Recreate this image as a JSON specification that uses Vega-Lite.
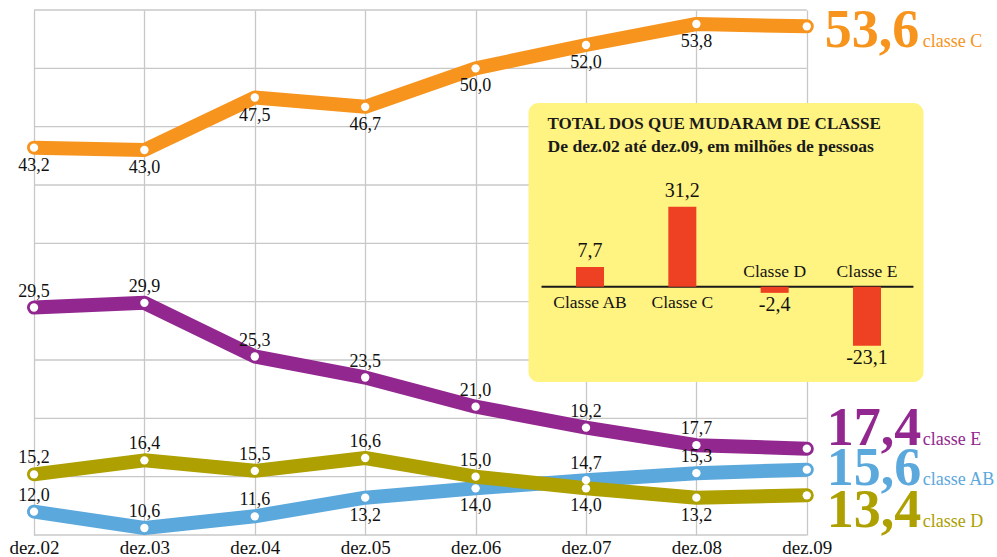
{
  "$schema": "https://vega.github.io/schema/vega-lite/v6.json",
  "autosize": {"type": "none"},
  "width": 963,
  "height": 525,
  "padding": {"left": 34, "top": 10, "right": 0, "bottom": 22},
  "background": "white",
  "config": {
    "view": {"stroke": null},
    "font": "Liberation Serif",
    "locale": {"number": {"decimal": ",", "thousands": ".", "grouping": [3], "currency": ["R$", ""], "minus": "-"}}
  },
  "datasets": {
    "linhas": [
      {"ano": 2002, "classe": "C", "valor": 43.2},
      {"ano": 2003, "classe": "C", "valor": 43.0},
      {"ano": 2004, "classe": "C", "valor": 47.5},
      {"ano": 2005, "classe": "C", "valor": 46.7},
      {"ano": 2006, "classe": "C", "valor": 50.0},
      {"ano": 2007, "classe": "C", "valor": 52.0},
      {"ano": 2008, "classe": "C", "valor": 53.8},
      {"ano": 2009, "classe": "C", "valor": 53.6},
      {"ano": 2002, "classe": "E", "valor": 29.5},
      {"ano": 2003, "classe": "E", "valor": 29.9},
      {"ano": 2004, "classe": "E", "valor": 25.3},
      {"ano": 2005, "classe": "E", "valor": 23.5},
      {"ano": 2006, "classe": "E", "valor": 21.0},
      {"ano": 2007, "classe": "E", "valor": 19.2},
      {"ano": 2008, "classe": "E", "valor": 17.7},
      {"ano": 2009, "classe": "E", "valor": 17.4},
      {"ano": 2002, "classe": "AB", "valor": 12.0},
      {"ano": 2003, "classe": "AB", "valor": 10.6},
      {"ano": 2004, "classe": "AB", "valor": 11.6},
      {"ano": 2005, "classe": "AB", "valor": 13.2},
      {"ano": 2006, "classe": "AB", "valor": 14.0},
      {"ano": 2007, "classe": "AB", "valor": 14.7},
      {"ano": 2008, "classe": "AB", "valor": 15.3},
      {"ano": 2009, "classe": "AB", "valor": 15.6},
      {"ano": 2002, "classe": "D", "valor": 15.2},
      {"ano": 2003, "classe": "D", "valor": 16.4},
      {"ano": 2004, "classe": "D", "valor": 15.5},
      {"ano": 2005, "classe": "D", "valor": 16.6},
      {"ano": 2006, "classe": "D", "valor": 15.0},
      {"ano": 2007, "classe": "D", "valor": 14.0},
      {"ano": 2008, "classe": "D", "valor": 13.2},
      {"ano": 2009, "classe": "D", "valor": 13.4}
    ],
    "grade": [{"v": 10}, {"v": 15}, {"v": 20}, {"v": 25}, {"v": 30}, {"v": 35}, {"v": 40}, {"v": 45}, {"v": 50}, {"v": 55}],
    "saldo": [
      {"classe": "Classe AB", "saldo": 7.7},
      {"classe": "Classe C", "saldo": 31.2},
      {"classe": "Classe D", "saldo": -2.4},
      {"classe": "Classe E", "saldo": -23.1}
    ]
  },
  "layer": [
    {
      "layer": [
        {
          "data": {"name": "grade"},
          "mark": {"type": "rule", "color": "#c8c8c8", "strokeWidth": 1.3},
          "encoding": {
            "y": {"field": "v", "type": "quantitative", "scale": {"domain": [10, 55], "nice": false, "zero": false}, "axis": null},
            "x": {"datum": 2002, "type": "quantitative", "scale": {"domain": [2002, 2010.7228], "nice": false, "zero": false},
              "axis": {"values": [2002, 2003, 2004, 2005, 2006, 2007, 2008, 2009], "labelExpr": "'dez.' + slice(toString(datum.value), 2)", "title": null, "domain": false, "ticks": false, "grid": true, "gridColor": "#c8c8c8", "gridWidth": 1.3, "labelFont": "Liberation Serif", "labelFontSize": 19, "labelColor": "#111", "labelPadding": 3, "labelOverlap": false, "labelFlush": false}},
            "x2": {"datum": 2009}
          }
        },
        {
          "data": {"values": [{}]},
          "mark": {"type": "rect", "fill": "#fff381", "cornerRadius": 10},
          "encoding": {
            "x": {"datum": 2006.479, "type": "quantitative"},
            "x2": {"datum": 2010.057},
            "y": {"datum": 47.03, "type": "quantitative"},
            "y2": {"datum": 23.12}
          }
        },
        {
          "data": {"values": [{}]},
          "mark": {"type": "text", "text": "TOTAL DOS QUE MUDARAM DE CLASSE", "align": "left", "baseline": "alphabetic", "fontSize": 17, "fontWeight": "bold", "color": "#1a1a1a", "font": "Liberation Serif"},
          "encoding": {
            "x": {"datum": 2006.651, "type": "quantitative"},
            "y": {"datum": 44.77, "type": "quantitative"}
          }
        },
        {
          "data": {"values": [{}]},
          "mark": {"type": "text", "text": "De dez.02 até dez.09, em milhões de pessoas", "align": "left", "baseline": "alphabetic", "fontSize": 17.6, "fontWeight": "bold", "color": "#1a1a1a", "font": "Liberation Serif"},
          "encoding": {
            "x": {"datum": 2006.651, "type": "quantitative"},
            "y": {"datum": 42.85, "type": "quantitative"}
          }
        },
        {
          "data": {"values": [{}]},
          "mark": {"type": "rule", "color": "#1a1a1a", "strokeWidth": 2},
          "encoding": {
            "x": {"datum": 2006.597, "type": "quantitative"},
            "x2": {"datum": 2009.966},
            "y": {"datum": 31.28, "type": "quantitative"}
          }
        },
        {
          "data": {"name": "linhas"},
          "mark": {"type": "line", "strokeWidth": 14, "strokeCap": "round", "strokeJoin": "round"},
          "encoding": {
            "x": {"field": "ano", "type": "quantitative"},
            "y": {"field": "valor", "type": "quantitative"},
            "color": {"field": "classe", "type": "nominal", "scale": {"domain": ["C", "E", "AB", "D"], "range": ["#f7941d", "#92278f", "#5ba8dd", "#ada000"]}, "legend": null}
          }
        },
        {
          "data": {"name": "linhas"},
          "mark": {"type": "circle", "size": 70, "color": "white", "opacity": 1},
          "encoding": {
            "x": {"field": "ano", "type": "quantitative"},
            "y": {"field": "valor", "type": "quantitative"}
          }
        },
        {
          "data": {"name": "linhas"},
          "transform": [{"filter": "datum.ano < 2009 && (datum.classe == 'C' || (datum.classe == 'AB' && (datum.ano == 2005 || datum.ano == 2006)) || (datum.classe == 'D' && datum.ano >= 2007))"}],
          "mark": {"type": "text", "baseline": "alphabetic", "dy": 23, "fontSize": 18, "color": "#111", "font": "Liberation Serif"},
          "encoding": {
            "x": {"field": "ano", "type": "quantitative"},
            "y": {"field": "valor", "type": "quantitative"},
            "text": {"field": "valor", "type": "quantitative", "format": ".1f"}
          }
        },
        {
          "data": {"name": "linhas"},
          "transform": [{"filter": "datum.ano < 2009 && !(datum.classe == 'C' || (datum.classe == 'AB' && (datum.ano == 2005 || datum.ano == 2006)) || (datum.classe == 'D' && datum.ano >= 2007))"}],
          "mark": {"type": "text", "baseline": "alphabetic", "dy": -11, "fontSize": 18, "color": "#111", "font": "Liberation Serif"},
          "encoding": {
            "x": {"field": "ano", "type": "quantitative"},
            "y": {"field": "valor", "type": "quantitative"},
            "text": {"field": "valor", "type": "quantitative", "format": ".1f"}
          }
        },
        {
          "data": {"name": "linhas"},
          "transform": [{"filter": "datum.ano == 2009 && datum.classe == 'C'"}],
          "layer": [
            {"mark": {"type": "text", "align": "left", "baseline": "alphabetic", "dx": 18, "dy": 20.7, "fontSize": 54, "fontWeight": "bold", "color": "#f7941d", "font": "Liberation Serif"},
             "encoding": {"x": {"field": "ano", "type": "quantitative"}, "y": {"field": "valor", "type": "quantitative"}, "text": {"field": "valor", "type": "quantitative", "format": ".1f"}}},
            {"mark": {"type": "text", "align": "left", "baseline": "alphabetic", "dx": 116, "dy": 20.7, "fontSize": 18, "color": "#f7941d", "font": "Liberation Serif", "text": "classe C"},
             "encoding": {"x": {"field": "ano", "type": "quantitative"}, "y": {"field": "valor", "type": "quantitative"}}}
          ]
        },
        {
          "data": {"name": "linhas"},
          "transform": [{"filter": "datum.ano == 2009 && datum.classe == 'E'"}],
          "layer": [
            {"mark": {"type": "text", "align": "left", "baseline": "alphabetic", "dx": 20, "dy": -3.7, "fontSize": 54, "fontWeight": "bold", "color": "#92278f", "font": "Liberation Serif"},
             "encoding": {"x": {"field": "ano", "type": "quantitative"}, "y": {"field": "valor", "type": "quantitative"}, "text": {"field": "valor", "type": "quantitative", "format": ".1f"}}},
            {"mark": {"type": "text", "align": "left", "baseline": "alphabetic", "dx": 116, "dy": -3.7, "fontSize": 18, "color": "#92278f", "font": "Liberation Serif", "text": "classe E"},
             "encoding": {"x": {"field": "ano", "type": "quantitative"}, "y": {"field": "valor", "type": "quantitative"}}}
          ]
        },
        {
          "data": {"name": "linhas"},
          "transform": [{"filter": "datum.ano == 2009 && datum.classe == 'AB'"}],
          "layer": [
            {"mark": {"type": "text", "align": "left", "baseline": "alphabetic", "dx": 20, "dy": 15.3, "fontSize": 54, "fontWeight": "bold", "color": "#5ba8dd", "font": "Liberation Serif"},
             "encoding": {"x": {"field": "ano", "type": "quantitative"}, "y": {"field": "valor", "type": "quantitative"}, "text": {"field": "valor", "type": "quantitative", "format": ".1f"}}},
            {"mark": {"type": "text", "align": "left", "baseline": "alphabetic", "dx": 116, "dy": 15.3, "fontSize": 18, "color": "#5ba8dd", "font": "Liberation Serif", "text": "classe AB"},
             "encoding": {"x": {"field": "ano", "type": "quantitative"}, "y": {"field": "valor", "type": "quantitative"}}}
          ]
        },
        {
          "data": {"name": "linhas"},
          "transform": [{"filter": "datum.ano == 2009 && datum.classe == 'D'"}],
          "layer": [
            {"mark": {"type": "text", "align": "left", "baseline": "alphabetic", "dx": 20, "dy": 31.7, "fontSize": 54, "fontWeight": "bold", "color": "#ada000", "font": "Liberation Serif"},
             "encoding": {"x": {"field": "ano", "type": "quantitative"}, "y": {"field": "valor", "type": "quantitative"}, "text": {"field": "valor", "type": "quantitative", "format": ".1f"}}},
            {"mark": {"type": "text", "align": "left", "baseline": "alphabetic", "dx": 116, "dy": 31.7, "fontSize": 18, "color": "#ada000", "font": "Liberation Serif", "text": "classe D"},
             "encoding": {"x": {"field": "ano", "type": "quantitative"}, "y": {"field": "valor", "type": "quantitative"}}}
          ]
        }
      ]
    },
    {
      "data": {"name": "saldo"},
      "encoding": {
        "x": {"field": "classe", "type": "nominal", "scale": {"type": "band", "domain": ["Classe AB", "Classe C", "Classe D", "Classe E"], "range": [542, 847], "paddingInner": 0.6966, "paddingOuter": 0, "align": 0}, "axis": null},
        "y": {"field": "saldo", "type": "quantitative", "scale": {"domain": [-96.99, 108.09], "nice": false, "zero": false}, "axis": null}
      },
      "layer": [
        {"mark": {"type": "bar", "color": "#ee4123"}},
        {
          "transform": [{"filter": "datum.saldo > 0"}],
          "mark": {"type": "text", "baseline": "alphabetic", "dy": -10, "fontSize": 20, "color": "#111", "font": "Liberation Serif"},
          "encoding": {"text": {"field": "saldo", "type": "quantitative", "format": ".1f"}}
        },
        {
          "transform": [{"filter": "datum.saldo < 0"}],
          "mark": {"type": "text", "baseline": "alphabetic", "dy": 18, "fontSize": 20, "color": "#111", "font": "Liberation Serif"},
          "encoding": {"text": {"field": "saldo", "type": "quantitative", "format": ".1f"}}
        },
        {
          "transform": [{"filter": "datum.saldo > 0"}],
          "mark": {"type": "text", "baseline": "alphabetic", "dy": 21, "fontSize": 17.5, "color": "#111", "font": "Liberation Serif"},
          "encoding": {"y": {"datum": 0, "type": "quantitative"}, "text": {"field": "classe", "type": "nominal"}}
        },
        {
          "transform": [{"filter": "datum.saldo < 0"}],
          "mark": {"type": "text", "baseline": "alphabetic", "dy": -10, "fontSize": 17.5, "color": "#111", "font": "Liberation Serif"},
          "encoding": {"y": {"datum": 0, "type": "quantitative"}, "text": {"field": "classe", "type": "nominal"}}
        }
      ]
    }
  ],
  "resolve": {"scale": {"x": "independent", "y": "independent", "color": "independent"}}
}
